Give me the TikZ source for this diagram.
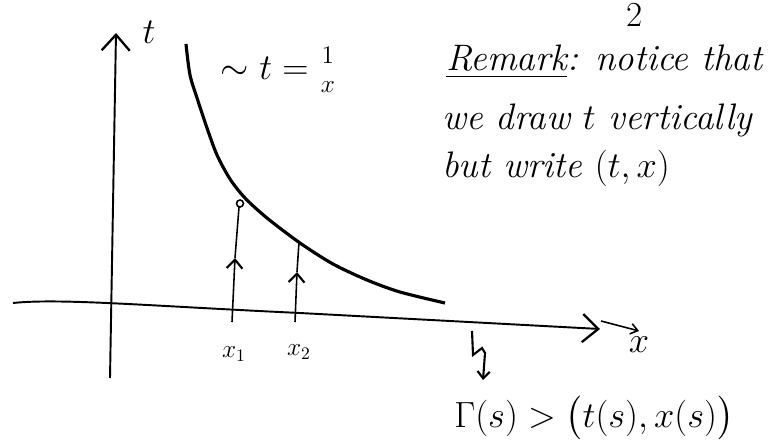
\documentclass[tikz,border=0pt]{standalone}
\usepackage{amsmath}
\usetikzlibrary{arrows.meta}

\tikzset{
  axis/.style={line width=1.1pt, -{Straight Barb[length=9pt, width=16pt, line width=1.3pt]}},
  hyperbola/.style={line width=1.8pt},
  flowline/.style={line width=0.9pt},
  flowhead/.style={line width=0.9pt, -{Straight Barb[length=5pt, width=9pt, line width=1.2pt]}},
  label/.style={font=\fontsize{20}{24}\selectfont},
  small/.style={font=\fontsize{14}{16}\selectfont}
}

\begin{document}
\begin{tikzpicture}[x=0.02cm, y=-0.02cm]
    \useasboundingbox (0,0) rectangle (776,446);

    % Axes
    \coordinate (T_BOT) at (110, 378);
    \coordinate (T_TOP) at (116, 33);
    \coordinate (X_LEFT) at (13, 303);
    \coordinate (X_TIP) at (600, 329);
    \draw[axis] (T_BOT) -- (T_TOP);
    \draw[axis] (X_LEFT) .. controls (60, 298) and (150, 306) .. (300, 313) -- (X_TIP);
    \node[label] (tlabel) at (149, 32) {$t$};
    \node[label] (xlabel) at (639, 345) {$x$};
    \coordinate (XA_START) at (601, 321);
    \draw[flowline, -{Straight Barb[length=4pt, width=6pt]}] (XA_START) -- (xlabel.north);

    % Hyperbola t = 1/x
    \draw[hyperbola] plot[smooth, tension=0.5] coordinates {
      (186, 44) (190, 75) (198, 101) (207, 128) (217, 155) (230, 179) (245, 198)
      (267, 218) (300, 243) (333, 264) (367, 280) (400, 292) (445, 303)};
    \node[label] (curvelabel) at (279, 70) {$\sim t = \genfrac{}{}{0pt}{}{1}{x}$};

    % Characteristics from x_1 and x_2
    \coordinate (X1_BASE) at (232, 322);
    \coordinate (X1_MID) at (235, 258);
    \coordinate (X1_TOP) at (239, 207);
    \coordinate (X2_BASE) at (295, 322);
    \coordinate (X2_MID) at (297, 272);
    \coordinate (X2_TOP) at (299, 242);
    \draw[flowhead] (X1_BASE) -- (X1_MID);
    \draw[flowline] (X1_MID) -- (X1_TOP);
    \draw[line width=0.9pt] (240, 203.5) circle (3.5);
    \draw[flowhead] (X2_BASE) -- (X2_MID);
    \draw[flowline] (X2_MID) -- (X2_TOP);
    \node[small] (xone) at (234, 354) {$x_1$};
    \node[small] (xtwo) at (299, 352) {$x_2$};

    % Remark
    \node[label] (pagenum) at (635, 15) {2};
    \node[label, anchor=west] (remA) at (440, 62) {\fontsize{21}{24}\selectfont\itshape \underline{Remark}: notice that};
    \node[label, anchor=west] (remB) at (436, 120) {\fontsize{21}{24}\selectfont\itshape we draw $t$ vertically};
    \node[label, anchor=west] (remC) at (436, 168) {\fontsize{21}{24}\selectfont\itshape but write $(t,x)$};

    % Parametrisation
    \coordinate (Z_TOP) at (472, 331);
    \coordinate (Z_TIP) at (483, 380);
    \node[label] (gamma) at (594, 418) {$\Gamma(s) > \big(t(s), x(s)\big)$};
    \draw[line width=1.2pt, -{Straight Barb[length=4pt, width=7pt]}]
      (Z_TOP) -- (473, 355) -- (482, 348) -- (485, 353) -- (Z_TIP);
\end{tikzpicture}
\end{document}
